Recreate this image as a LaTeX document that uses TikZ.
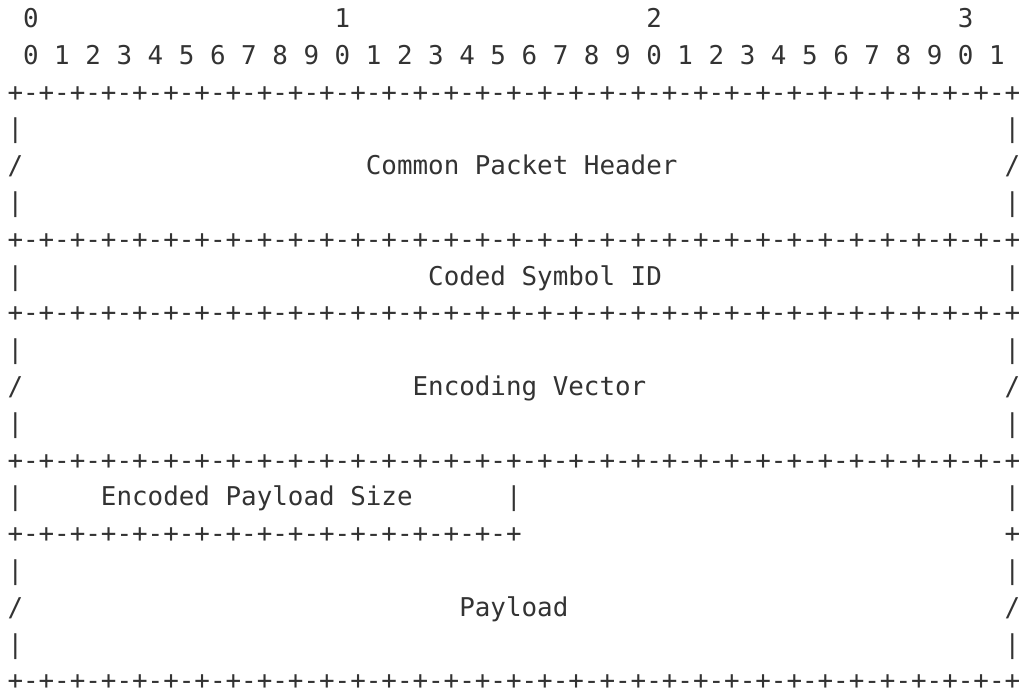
\documentclass[tikz,border=0pt]{standalone}
\usepackage{fontspec}
\newfontfamily\asciifont{DejaVu Sans Mono}
\definecolor{ink}{HTML}{333333}
% four bit cells of a separator line
\newcommand\fourbits{+-+-+-+-}
\begin{document}
\begin{tikzpicture}[
  x=15.58pt, y=-36.8pt,
  glyphs/.style={inner sep=0pt, outer sep=0pt, anchor=base west, text=ink,
    font=\asciifont\fontsize{25.88pt}{36.8pt}\selectfont},
]
\useasboundingbox[fill=white] (-0.4814,-0.516) rectangle (65.05,18.26);

% bit ruler
\node[glyphs] (tens0) at (1,0.23) {0};
\node[glyphs] (tens1) at (21,0.23) {1};
\node[glyphs] (tens2) at (41,0.23) {2};
\node[glyphs] (tens3) at (61,0.23) {3};
\node[glyphs] (units) at (1,1.23) {0~1~2~3~4~5~6~7~8~9~0~1~2~3~4~5~6~7~8~9~0~1~2~3~4~5~6~7~8~9~0~1};

% separator lines
\node[glyphs] (sep0) at (0,2.23)  {\fourbits\fourbits\fourbits\fourbits\fourbits\fourbits\fourbits\fourbits+};
\node[glyphs] (sep1) at (0,6.23)  {\fourbits\fourbits\fourbits\fourbits\fourbits\fourbits\fourbits\fourbits+};
\node[glyphs] (sep2) at (0,8.23)  {\fourbits\fourbits\fourbits\fourbits\fourbits\fourbits\fourbits\fourbits+};
\node[glyphs] (sep3) at (0,12.23) {\fourbits\fourbits\fourbits\fourbits\fourbits\fourbits\fourbits\fourbits+};
\node[glyphs] (sep4) at (0,14.23) {\fourbits\fourbits\fourbits\fourbits+};
\node[glyphs] (sep4r) at (64,14.23) {+};
\node[glyphs] (sep5) at (0,18.23) {\fourbits\fourbits\fourbits\fourbits\fourbits\fourbits\fourbits\fourbits+};

% left and right borders
\foreach \r in {3,5,7,9,11,13,15,17} {
  \node[glyphs] (bl\r) at (0,\r.23) {|};
  \node[glyphs] (br\r) at (64,\r.23) {|};
}
\foreach \r in {4,10,16} {
  \node[glyphs] (bl\r) at (0,\r.23) {/};
  \node[glyphs] (br\r) at (64,\r.23) {/};
}
\node[glyphs] (mid13) at (32,13.23) {|};

% field names
\node[glyphs] (cph) at (23,4.23)  {Common Packet Header};
\node[glyphs] (csi) at (27,7.23)  {Coded Symbol ID};
\node[glyphs] (ev)  at (26,10.23) {Encoding Vector};
\node[glyphs] (eps) at (6,13.23)  {Encoded Payload Size};
\node[glyphs] (pl)  at (29,16.23) {Payload};
\end{tikzpicture}
\end{document}
